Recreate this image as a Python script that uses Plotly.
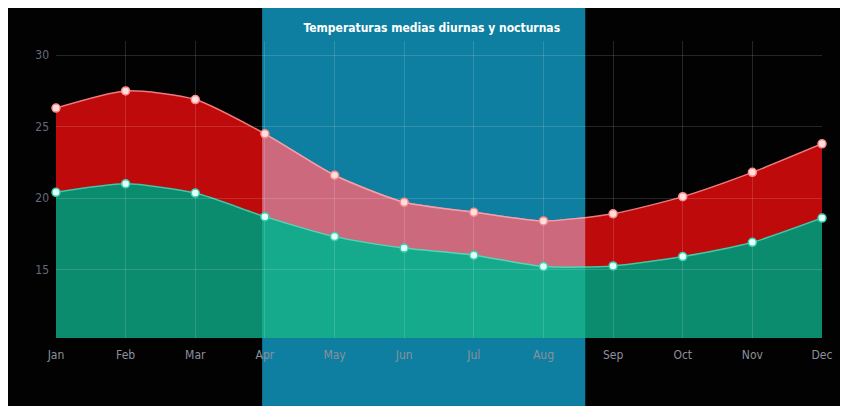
import plotly.graph_objects as go

# Monthly mean temperatures (°C)
months = ["Jan", "Feb", "Mar", "Apr", "May", "Jun",
          "Jul", "Aug", "Sep", "Oct", "Nov", "Dec"]
day_temp = [26.3, 27.5, 26.9, 24.5, 21.6, 19.7, 19.0, 18.4, 18.9, 20.1, 21.8, 23.8]
night_temp = [20.4, 21.0, 20.35, 18.7, 17.3, 16.5, 16.0, 15.2, 15.25, 15.9, 16.9, 18.6]
y_ticks = [15, 20, 25, 30]

# Highlighted season, in month-index units (Apr .. mid Aug/Sep)
band_start, band_end = 2.96, 7.6

x_idx = list(range(len(months)))
x_max = len(months) - 1
y_range = [10.2, 31]

W, H = 845, 406
ML, MR, MT, MB = 56, 23, 41, 68
plot_w, plot_h = W - ML - MR, H - MT - MB


def px_to_paper_x(px):
    return (px - ML) / plot_w


def px_to_paper_y(py):
    return (H - MB - py) / plot_h


RED, GREEN = "#be0a0a", "#0b8c6e"
PINK, TEAL = "#cd697d", "#16aa8c"
BLUE = "#0e7fa0"
SMOOTH = 0.65

fig = go.Figure()


def add_band_pair(xa, ya, low_fill, high_fill, low_line, high_line):
    fig.add_trace(go.Scatter(
        x=x_idx, y=night_temp, xaxis=xa, yaxis=ya, mode="lines",
        line=dict(color=low_line, width=1.5, shape="spline", smoothing=SMOOTH),
        fill="tozeroy", fillcolor=low_fill, hoverinfo="skip", showlegend=False))
    fig.add_trace(go.Scatter(
        x=x_idx, y=day_temp, xaxis=xa, yaxis=ya, mode="lines",
        line=dict(color=high_line, width=1.5, shape="spline", smoothing=SMOOTH),
        fill="tonexty", fillcolor=high_fill, hoverinfo="skip", showlegend=False))


# full-year areas
add_band_pair("x", "y", GREEN, RED, "#3cc9a8", "#f07a7a")
# lighter areas inside the highlighted season (clipped to its subplot)
add_band_pair("x2", "y2", TEAL, PINK, "#4fd8b8", "#f2a0aa")

# point markers on top
fig.add_trace(go.Scatter(
    x=x_idx, y=night_temp, xaxis="x3", yaxis="y3", mode="markers",
    marker=dict(size=8, color="#e6fff8", line=dict(color="#36d2b2", width=1.5)),
    cliponaxis=False, showlegend=False, name="Noche"))
fig.add_trace(go.Scatter(
    x=x_idx, y=day_temp, xaxis="x3", yaxis="y3", mode="markers",
    marker=dict(size=8, color="#ffdede", line=dict(color="#ff8a8a", width=1.5)),
    cliponaxis=False, showlegend=False, name="Día"))

# dark panel with a white frame, plus the highlighted season band
panel_y0, panel_y1 = px_to_paper_y(H), px_to_paper_y(8)
fig.add_shape(type="rect", xref="paper", yref="paper",
              x0=px_to_paper_x(8), x1=px_to_paper_x(840), y0=panel_y0, y1=panel_y1,
              fillcolor="#020203", line=dict(width=0), layer="below")
fig.add_shape(type="rect", xref="paper", yref="paper",
              x0=band_start / x_max, x1=band_end / x_max, y0=panel_y0, y1=panel_y1,
              fillcolor=BLUE, line=dict(width=0), layer="below")

condensed = "DejaVu Sans Condensed, Liberation Sans Narrow, Liberation Sans, sans-serif"
tick_font = dict(family=condensed, size=12)

fig.update_layout(
    width=W, height=H, autosize=False,
    margin=dict(l=ML, r=MR, t=MT, b=MB, pad=0),
    paper_bgcolor="white", plot_bgcolor="rgba(0,0,0,0)",
    title=dict(text="<b>Temperaturas medias diurnas y nocturnas</b>",
               x=0.511, xref="container", xanchor="center",
               y=1 - 28 / H, yref="container", yanchor="middle",
               font=dict(family=condensed, size=12, color="white")),
    xaxis=dict(range=[0, x_max], tickvals=x_idx, ticktext=months, showgrid=False,
               zeroline=False, showline=False, ticks="", ticklabelstandoff=8,
               tickfont=dict(color="#8d909c", **tick_font), domain=[0, 1], anchor="y"),
    yaxis=dict(range=y_range, tickvals=y_ticks, showgrid=False, zeroline=False,
               showline=False, ticks="", ticklabelstandoff=6,
               tickfont=dict(color="#666b78", **tick_font), domain=[0, 1], anchor="x"),
    xaxis2=dict(range=[band_start, band_end], domain=[band_start / x_max, band_end / x_max],
                visible=False, anchor="y2"),
    yaxis2=dict(range=y_range, domain=[0, 1], visible=False, anchor="x2"),
    xaxis3=dict(range=[0, x_max], domain=[0, 1], tickvals=x_idx, showgrid=True,
                gridcolor="rgba(255,255,255,0.14)", gridwidth=1, showticklabels=False,
                zeroline=False, ticks="", anchor="y3"),
    yaxis3=dict(range=y_range, domain=[0, 1], tickvals=y_ticks, showgrid=True,
                gridcolor="rgba(255,255,255,0.14)", gridwidth=1, showticklabels=False,
                zeroline=False, ticks="", anchor="x3"),
)

fig.write_html("out.html")
